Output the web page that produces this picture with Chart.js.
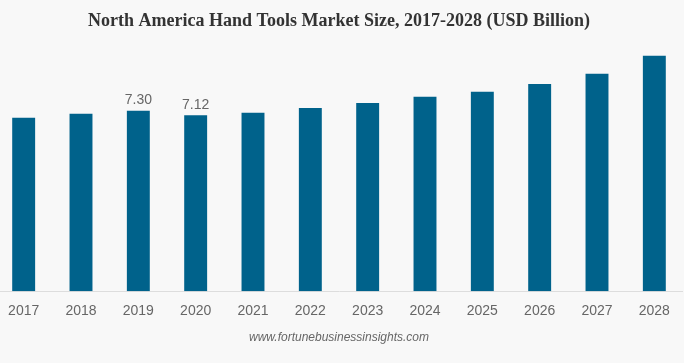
<!DOCTYPE html>
<html>
<head>
<meta charset="utf-8">
<script src="https://cdn.jsdelivr.net/npm/chart.js@4.4.1/dist/chart.umd.min.js"></script>
<style>
  html, body { margin: 0; padding: 0; background: #f8f8f8; overflow: hidden; }
  #wrap { position: absolute; left: -5px; top: 0; width: 688px; height: 363px; }
</style>
</head>
<body>
<div id="wrap"><canvas id="chart" width="688" height="363"></canvas></div>
<script>
// values (USD billion)
const years = ['2017', '2018', '2019', '2020', '2021', '2022', '2023', '2024', '2025', '2026', '2027', '2028'];
const marketSize = [7.02, 7.18, 7.30, 7.12, 7.22, 7.42, 7.62, 7.87, 8.07, 8.39, 8.80, 9.53];
// only these years carry a value label
const labeledYears = ['2019', '2020'];

const barColor = '#00628b';

// draws the value over the labelled bars
const valueLabels = {
  id: 'valueLabels',
  afterDatasetsDraw(chart) {
    const ctx = chart.ctx;
    const meta = chart.getDatasetMeta(0);
    ctx.save();
    ctx.font = '14px "Liberation Sans", Arial, sans-serif';
    ctx.fillStyle = '#666666';
    ctx.textAlign = 'center';
    ctx.textBaseline = 'bottom';
    meta.data.forEach((bar, i) => {
      if (labeledYears.indexOf(years[i]) === -1) return;
      ctx.fillText(marketSize[i].toFixed(2), bar.x, bar.y - 3.5);
    });
    ctx.restore();
  }
};

new Chart(document.getElementById('chart'), {
  type: 'bar',
  data: {
    labels: years,
    datasets: [{
      data: marketSize,
      backgroundColor: barColor,
      barPercentage: 0.4,
      categoryPercentage: 1.0
    }]
  },
  options: {
    responsive: false,
    animation: false,
    layout: { padding: { left: 0, right: 0, top: 0, bottom: 18 } },
    plugins: {
      legend: { display: false },
      tooltip: { enabled: false },
      title: {
        display: true,
        text: 'North America Hand Tools Market Size, 2017-2028 (USD Billion)',
        color: '#333333',
        font: { family: '"Liberation Serif", "Times New Roman", serif', size: 18, weight: 'bold' },
        padding: { top: 10.5, bottom: 12 }
      },
      subtitle: {
        display: true,
        position: 'bottom',
        text: 'www.fortunebusinessinsights.com',
        color: '#666666',
        font: { family: '"Liberation Sans", Arial, sans-serif', size: 12, style: 'italic' },
        padding: { top: 0.5, bottom: 0 }
      }
    },
    scales: {
      x: {
        grid: { display: false, drawTicks: false },
        border: { display: true, color: '#dddddd' },
        ticks: {
          color: '#666666',
          padding: 11,
          font: { family: '"Liberation Sans", Arial, sans-serif', size: 14 }
        }
      },
      y: {
        display: false,
        min: 0,
        max: 10
      }
    }
  },
  plugins: [valueLabels]
});
</script>
</body>
</html>
